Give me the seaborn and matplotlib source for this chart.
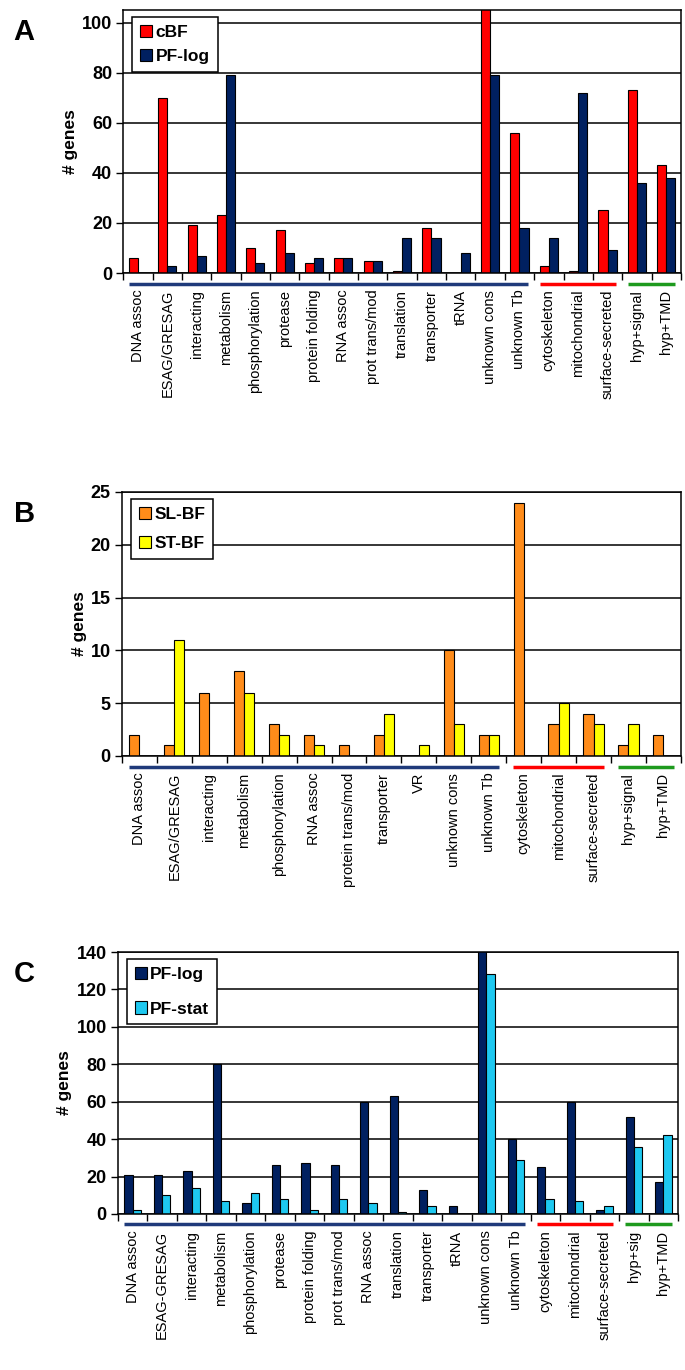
import numpy as np
import pandas as pd
import matplotlib
matplotlib.use('Agg')
import matplotlib.pyplot as plt
import matplotlib.transforms as mtransforms
import seaborn as sns

# ── Data ─────────────────────────────────────────────────────────────────────
cats_a = ['DNA assoc', 'ESAG/GRESAG', 'interacting', 'metabolism', 'phosphorylation',
          'protease', 'protein folding', 'RNA assoc', 'prot trans/mod', 'translation',
          'transporter', 'tRNA', 'unknown cons', 'unknown Tb', 'cytoskeleton',
          'mitochondrial', 'surface-secreted', 'hyp+signal', 'hyp+TMD']
cbf_a   = [6, 70, 19, 23, 10, 17, 4, 6, 5, 1, 18, 0, 106, 56, 3, 1, 25, 73, 43]
pflog_a = [0, 3, 7, 79, 4, 8, 6, 6, 5, 14, 14, 8, 79, 18, 14, 72, 9, 36, 38]

cats_b = ['DNA assoc', 'ESAG/GRESAG', 'interacting', 'metabolism', 'phosphorylation',
          'RNA assoc', 'protein trans/mod', 'transporter', 'VR', 'unknown cons',
          'unknown Tb', 'cytoskeleton', 'mitochondrial', 'surface-secreted',
          'hyp+signal', 'hyp+TMD']
slbf_b = [2, 1, 6, 8, 3, 2, 1, 2, 0, 10, 2, 24, 3, 4, 1, 2]
stbf_b = [0, 11, 0, 6, 2, 1, 0, 4, 1, 3, 2, 0, 5, 3, 3, 0]

cats_c = ['DNA assoc', 'ESAG-GRESAG', 'interacting', 'metabolism', 'phosphorylation',
          'protease', 'protein folding', 'prot trans/mod', 'RNA assoc', 'translation',
          'transporter', 'tRNA', 'unknown cons', 'unknown Tb', 'cytoskeleton',
          'mitochondrial', 'surface-secreted', 'hyp+sig', 'hyp+TMD']
pflog_c  = [21, 21, 23, 80, 6, 26, 27, 26, 60, 63, 13, 4, 142, 40, 25, 60, 2, 52, 17]
pfstat_c = [2, 10, 14, 7, 11, 8, 2, 8, 6, 1, 4, 0, 128, 29, 8, 7, 4, 36, 42]

# group brackets under the axis: (first idx, last idx, colour)
groups_a = [(0, 13, '#1F3A7A'), (14, 16, '#FF0000'), (17, 18, '#1E9A1E')]
groups_b = [(0, 10, '#1F3A7A'), (11, 13, '#FF0000'), (14, 15, '#1E9A1E')]
groups_c = [(0, 13, '#1F3A7A'), (14, 16, '#FF0000'), (17, 18, '#1E9A1E')]

# ── Style ────────────────────────────────────────────────────────────────────
sns.set_style('white')
plt.rcParams['font.family'] = ['Liberation Sans', 'DejaVu Sans']
for key in ['text.color', 'axes.labelcolor', 'xtick.color', 'ytick.color']:
    plt.rcParams[key] = 'black'


def long_df(cats, series):
    rows = []
    for name, vals in series.items():
        for c, v in zip(cats, vals):
            rows.append({'category': c, 'series': name, 'genes': v})
    return pd.DataFrame(rows)


def draw_panel(fig, rect, letter, cats, series, colors, ymax, ystep, groups, width,
               leg_spacing):
    ax = fig.add_axes(rect)
    df = long_df(cats, series)
    sns.barplot(data=df, x='category', y='genes', hue='series', order=cats,
                hue_order=list(series.keys()), palette=colors, width=width,
                edgecolor='black', linewidth=0.8, saturation=1, ax=ax)
    n = len(cats)
    ax.set_xlim(-0.5, n - 0.5)
    ax.set_ylim(0, ymax)
    ax.set_yticks(np.arange(0, ymax + 0.01, ystep))
    ax.yaxis.grid(True, color='black', linewidth=1.1)
    ax.set_axisbelow(True)
    for s in ax.spines.values():
        s.set_visible(True)
        s.set_color('black')
        s.set_linewidth(1.1)

    ax.set_xticks(np.arange(n))
    ax.set_xticklabels(cats, rotation=90, fontsize=10.5)
    ax.set_xticks(np.arange(n + 1) - 0.5, minor=True)
    ax.tick_params(axis='x', which='major', length=0, pad=12)
    ax.tick_params(axis='x', which='minor', length=5, width=1, direction='out',
                   bottom=True, color='black')
    ax.tick_params(axis='y', length=5, width=1, direction='out', left=True,
                   color='black', labelsize=13, pad=3)
    for t in ax.get_yticklabels():
        t.set_fontweight('bold')
    ax.set_xlabel('')
    ax.set_ylabel('# genes', fontsize=12.5, fontweight='bold', labelpad=3)

    # group brackets
    trans = mtransforms.blended_transform_factory(ax.transData, ax.transAxes)
    for i0, i1, col in groups:
        ax.plot([i0 - 0.3, i1 + 0.3], [-0.04, -0.04], color=col, lw=2.5,
                transform=trans, clip_on=False, solid_capstyle='butt')

    handles, labels = ax.get_legend_handles_labels()
    leg = ax.legend(handles, labels, loc='upper left', bbox_to_anchor=(0.01, 0.985),
                    fancybox=False, edgecolor='black', framealpha=1,
                    handlelength=0.7, handleheight=0.7, handletextpad=0.2,
                    labelspacing=leg_spacing, borderpad=0.45, borderaxespad=0.2,
                    prop={'weight': 'bold', 'size': 12.5})
    leg.get_frame().set_linewidth(1.1)

    fig.text(0.02, rect[1] + rect[3] - 0.016, letter, fontsize=21, fontweight='bold',
             va='center', ha='left')
    return ax


fig = plt.figure(figsize=(6.85, 13.7), dpi=100)

draw_panel(fig, [0.180, 0.8007, 0.814, 0.192], 'A', cats_a,
           {'cBF': cbf_a, 'PF-log': pflog_a},
           ['#FF0000', '#002060'], 105, 20, groups_a, 0.62, 0.5)

draw_panel(fig, [0.178, 0.4482, 0.816, 0.1927], 'B', cats_b,
           {'SL-BF': slbf_b, 'ST-BF': stbf_b},
           ['#FF8C1A', '#FFFF00'], 25, 5, groups_b, 0.58, 0.8)

draw_panel(fig, [0.172, 0.1139, 0.818, 0.1912], 'C', cats_c,
           {'PF-log': pflog_c, 'PF-stat': pfstat_c},
           ['#002060', '#1EC8F0'], 140, 20, groups_c, 0.56, 1.1)

fig.savefig('out.png', dpi=100)
